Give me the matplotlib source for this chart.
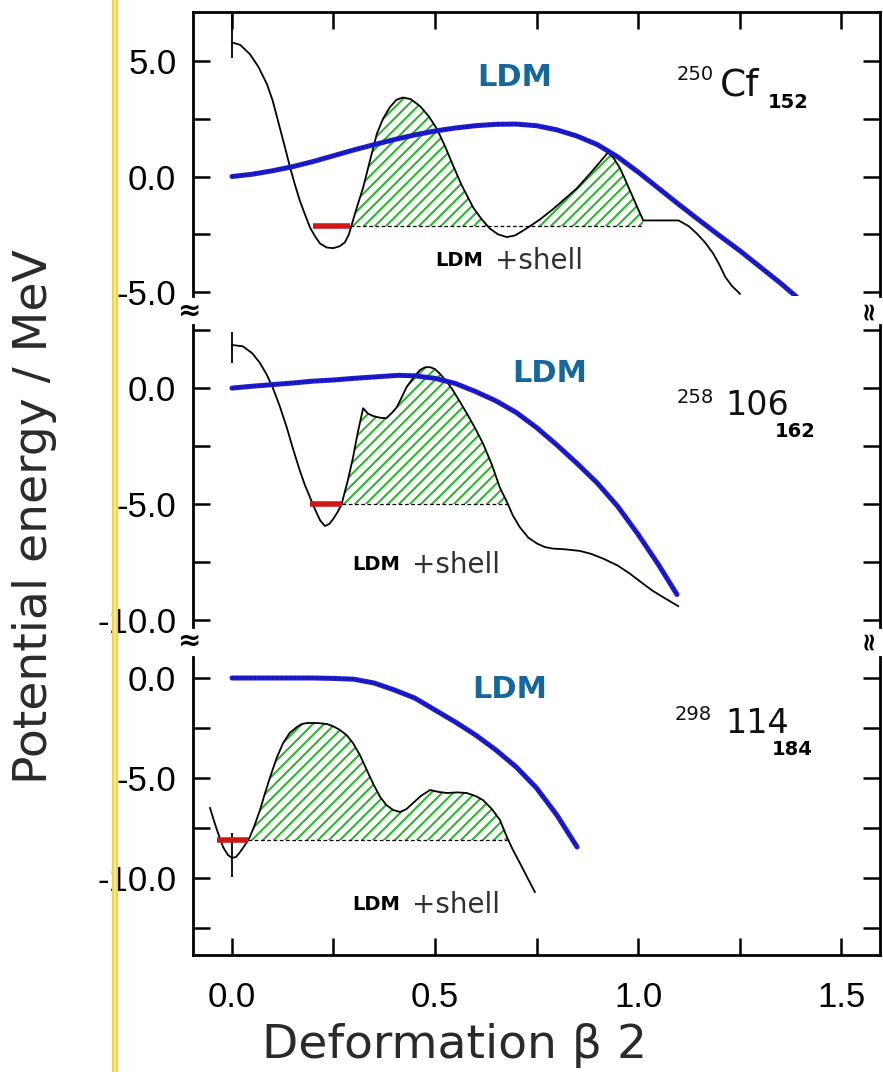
import matplotlib
matplotlib.use('Agg')
import matplotlib.pyplot as plt
import numpy as np
from matplotlib.collections import LineCollection
from matplotlib.lines import Line2D
from matplotlib.path import Path
from matplotlib.transforms import IdentityTransform
from matplotlib.ticker import MultipleLocator, FormatStrFormatter

plt.rcParams['axes.unicode_minus'] = False
plt.rcParams['font.family'] = 'Liberation Sans'

# ---------------- data ----------------
# 250Cf152
cf_ldm_beta = [0, 0.05, 0.1, 0.15, 0.2, 0.25, 0.3, 0.35, 0.4, 0.45, 0.5, 0.55, 0.6, 0.65,
               0.7, 0.75, 0.8, 0.85, 0.9, 0.95, 1.0, 1.05, 1.1, 1.15, 1.2, 1.25, 1.3, 1.35, 1.39]
cf_ldm_e = [0, 0.1, 0.25, 0.43, 0.65, 0.9, 1.15, 1.38, 1.6, 1.8, 1.97, 2.1, 2.2, 2.26,
            2.27, 2.2, 2.02, 1.75, 1.38, 0.85, 0.2, -0.5, -1.2, -1.88, -2.55, -3.2, -3.9, -4.6, -5.2]
cf_shell_beta = [0, 0.02, 0.044, 0.065, 0.086, 0.10, 0.118, 0.13, 0.143, 0.155, 0.167, 0.18,
                 0.192, 0.205, 0.217, 0.233, 0.249, 0.265, 0.278, 0.288, 0.298, 0.31, 0.323,
                 0.34, 0.357, 0.372, 0.389, 0.405, 0.421, 0.44, 0.463, 0.485, 0.505, 0.525,
                 0.544, 0.565, 0.594, 0.615, 0.635, 0.655, 0.677, 0.697, 0.717, 0.738, 0.759,
                 0.79, 0.815, 0.85, 0.882, 0.905, 0.926, 0.94, 0.956, 0.97, 0.985, 1.0, 1.013,
                 1.10, 1.125, 1.145, 1.165, 1.185, 1.2, 1.215, 1.232, 1.251]
cf_shell_e = [5.8, 5.7, 5.3, 4.75, 4.0, 3.3, 2.1, 1.3, 0.4, -0.35, -1.04, -1.65,
              -2.2, -2.6, -2.9, -3.07, -3.1, -3.02, -2.85, -2.5, -1.9, -1.2, -0.48,
              0.7, 1.86, 2.5, 3.0, 3.32, 3.42, 3.35, 3.05, 2.6, 2.05, 1.3,
              0.5, -0.35, -1.34, -1.85, -2.25, -2.5, -2.62, -2.55, -2.34, -2.1, -1.85,
              -1.42, -1.04, -0.5, 0.13, 0.6, 1.04, 0.8, 0.35, -0.2, -0.8, -1.4, -1.9,
              -1.9, -2.15, -2.47, -2.85, -3.33, -3.8, -4.35, -4.75, -5.07]

# 258 106 162
sg_ldm_beta = [0, 0.05, 0.1, 0.15, 0.2, 0.25, 0.3, 0.35, 0.41, 0.45, 0.5, 0.55, 0.6, 0.65,
               0.7, 0.75, 0.8, 0.85, 0.9, 0.95, 1.0, 1.05, 1.096]
sg_ldm_e = [0, 0.08, 0.15, 0.22, 0.3, 0.35, 0.42, 0.48, 0.55, 0.53, 0.42, 0.2, -0.15, -0.55,
            -1.05, -1.7, -2.45, -3.25, -4.1, -5.1, -6.3, -7.6, -8.9]
sg_shell_beta = [0, 0.027, 0.05, 0.069, 0.085, 0.10, 0.118, 0.135, 0.15, 0.167, 0.18, 0.192,
                 0.205, 0.217, 0.229, 0.24, 0.249, 0.26, 0.27, 0.285, 0.298, 0.31, 0.323,
                 0.335, 0.347, 0.365, 0.38, 0.395, 0.406, 0.418, 0.43, 0.447, 0.463, 0.476,
                 0.488, 0.5, 0.512, 0.528, 0.544, 0.56, 0.578, 0.598, 0.618, 0.64, 0.66,
                 0.677, 0.692, 0.709, 0.73, 0.751, 0.77, 0.79, 0.82, 0.857, 0.885, 0.914,
                 0.95, 0.98, 1.01, 1.037, 1.07, 1.099]
sg_shell_e = [1.86, 1.8, 1.5, 1.08, 0.6, 0.04, -0.8, -1.7, -2.6, -3.55, -4.2, -4.7,
              -5.25, -5.7, -5.95, -5.85, -5.65, -5.35, -5.0, -4.0, -3.0, -1.9, -0.87,
              -1.1, -1.2, -1.28, -1.3, -1.05, -0.82, -0.4, 0.04, 0.45, 0.78, 0.9,
              0.9, 0.82, 0.62, 0.3, -0.09, -0.55, -1.08, -1.7, -2.38, -3.3, -4.3,
              -4.9, -5.5, -6.0, -6.45, -6.7, -6.85, -6.92, -6.95, -7.02, -7.15, -7.35,
              -7.65, -8.0, -8.4, -8.75, -9.1, -9.4]

# 298 114 184
fl_ldm_beta = [0, 0.1, 0.2, 0.25, 0.3, 0.35, 0.4, 0.45, 0.5, 0.55, 0.6, 0.65, 0.7, 0.75,
               0.8, 0.85]
fl_ldm_e = [0, 0, 0, -0.02, -0.06, -0.25, -0.6, -1.0, -1.6, -2.2, -2.85, -3.6, -4.45, -5.5,
            -6.85, -8.45]
fl_shell_beta = [-0.054, -0.045, -0.037, -0.022, -0.01, 0, 0.01, 0.02, 0.032, 0.044, 0.056,
                 0.069, 0.08, 0.094, 0.11, 0.126, 0.142, 0.16, 0.172, 0.185, 0.21, 0.234,
                 0.25, 0.266, 0.282, 0.298, 0.315, 0.332, 0.348, 0.365, 0.38, 0.397, 0.414,
                 0.43, 0.446, 0.465, 0.488, 0.51, 0.53, 0.555, 0.578, 0.6, 0.618, 0.64,
                 0.66, 0.677, 0.692, 0.709, 0.728, 0.746]
fl_shell_e = [-6.5, -7.1, -7.6, -8.45, -8.85, -9.0, -8.95, -8.7, -8.35, -7.95, -7.35,
              -6.6, -5.85, -4.95, -4.0, -3.25, -2.75, -2.45, -2.3, -2.25, -2.25, -2.3,
              -2.42, -2.6, -2.85, -3.25, -3.85, -4.6, -5.3, -5.95, -6.35, -6.6, -6.7,
              -6.55, -6.25, -5.9, -5.6, -5.7, -5.75, -5.72, -5.75, -5.9, -6.1, -6.55,
              -7.1, -7.95, -8.6, -9.25, -10.0, -10.7]

# ground-state level, its red bar and the hatched barrier range
gs_level = [-2.15, -5.0, -8.1]
red_from = [0.2, 0.192, -0.037]
red_to = [0.29, 0.27, 0.04]
barrier_from = [0.29, 0.27, 0.04]
barrier_to = [1.013, 0.677, 0.677]
# short vertical marks at beta = 0
mark_lo = [5.15, 1.08, -9.95]
mark_hi = [7.06, 2.42, -7.75]

nuclide_mass = ['250', '258', '298']
nuclide_z = ['Cf', '106', '114']
nuclide_n = ['152', '162', '184']

panels = [(cf_ldm_beta, cf_ldm_e, cf_shell_beta, cf_shell_e),
          (sg_ldm_beta, sg_ldm_e, sg_shell_beta, sg_shell_e),
          (fl_ldm_beta, fl_ldm_e, fl_shell_beta, fl_shell_e)]

# ---------------- layout ----------------
W, H = 883, 1072


def fx(x):
    return x / W


def fy(y):
    return 1 - y / H


fig = plt.figure(figsize=(W / 100, H / 100), dpi=100)

boxes = [(12, 296), (325, 627), (657, 955)]          # pixel top / bottom of each panel
ylims = [(-5.17, 7.12), (-10.30, 2.72), (-13.85, 1.05)]
blue = '#1c1cd4'
green = '#2fb52f'


def hatch(ax, beta, e, lo, hi, lev):
    beta = np.asarray(beta)
    e = np.asarray(e)
    mask = (beta >= lo) & (beta <= hi) & (e > lev)
    poly = ax.fill_between(beta, e, lev, where=mask, interpolate=True,
                           facecolor='none', lw=0)
    clip = Path.make_compound_path(*poly.get_paths())
    x0, y0, x1, y1 = ax.bbox.extents
    h = y1 - y0
    segs = [[(x, y0), (x + h, y1)] for x in np.arange(x0 - h, x1, 11)]
    lc = LineCollection(segs, colors=green, linewidths=1.5,
                        transform=IdentityTransform(), zorder=1)
    ax.add_collection(lc, autolim=False)
    lc.set_clip_path(clip, ax.transData)


for i, (lb, le, sb, se) in enumerate(panels):
    top, bot = boxes[i]
    ax = fig.add_axes([fx(193), fy(bot), fx(880) - fx(193), (bot - top) / H])
    ax.set_xlim(-0.096, 1.596)
    ax.set_ylim(*ylims[i])

    hatch(ax, sb, se, barrier_from[i], barrier_to[i], gs_level[i])
    ax.plot([barrier_from[i], barrier_to[i]], [gs_level[i]] * 2, color='k', lw=0.9,
            ls=(0, (3, 2)), zorder=2)
    ax.plot([red_from[i], red_to[i]], [gs_level[i]] * 2, color='#d01818', lw=4,
            solid_capstyle='butt', zorder=4)
    ax.plot(sb, se, color='k', lw=1.3, zorder=3)
    ax.plot(lb, le, color=blue, lw=3.6, solid_capstyle='round', zorder=5)
    ax.plot(lb, le, color='k', lw=0.8, ls=(0, (1.5, 2.5)), alpha=0.55, zorder=6)
    ax.vlines(0, mark_lo[i], mark_hi[i], color='k', lw=1.3, zorder=3)

    for side in ['left', 'right', 'top', 'bottom']:
        ax.spines[side].set_linewidth(2)
    ax.spines['top'].set_visible(i == 0)
    ax.spines['bottom'].set_visible(i == 2)

    ax.yaxis.set_major_locator(MultipleLocator(5))
    ax.yaxis.set_minor_locator(MultipleLocator(2.5))
    ax.yaxis.set_major_formatter(FormatStrFormatter('%.1f'))
    ax.xaxis.set_major_locator(MultipleLocator(0.5))
    ax.xaxis.set_minor_locator(MultipleLocator(0.25))
    ax.xaxis.set_major_formatter(FormatStrFormatter('%.1f'))
    ax.tick_params(axis='y', which='both', direction='in', left=True, right=True,
                   length=12, width=1.8, labelsize=25, pad=12)
    ax.tick_params(axis='x', which='both', direction='in', top=(i == 0), bottom=(i == 2),
                   labelbottom=(i == 2), length=12, width=1.8, labelsize=25, pad=19)

# ---------------- text ----------------
dv = 'DejaVu Sans'
ldm_pos = [(515, 78), (550, 373), (510, 690)]
for x, y in ldm_pos:
    fig.text(fx(x), fy(y), 'LDM', ha='center', va='center', fontsize=22,
             fontweight='bold', color='#14689c', family=dv)

shell_pos = [(435, 261), (352, 565), (352, 905)]
for x, y in shell_pos:
    fig.text(fx(x), fy(y), 'LDM', ha='left', va='center', fontsize=14,
             fontweight='bold', color='k', family=dv)
    fig.text(fx(x + 60), fy(y), '+shell', ha='left', va='center', fontsize=20,
             color='#303030', family=dv)

mass_pos = [(677, 65), (677, 388), (675, 705)]
z_pos = [(720, 67), (725, 389), (725, 707)]
n_pos = [(768, 93), (775, 422), (772, 740)]
for i in range(3):
    fig.text(fx(mass_pos[i][0]), fy(mass_pos[i][1]), nuclide_mass[i], ha='left', va='top',
             fontsize=14, color='#111111', family=dv)
    fig.text(fx(z_pos[i][0]), fy(z_pos[i][1]), nuclide_z[i], ha='left', va='top',
             fontsize=27 if i == 0 else 24, color='#111111', family=dv)
    fig.text(fx(n_pos[i][0]), fy(n_pos[i][1]), nuclide_n[i], ha='left', va='top',
             fontsize=14, fontweight='bold', color='k', family=dv)

for y in [311, 641]:
    fig.text(fx(190), fy(y), '≈', ha='center', va='center', fontsize=20,
             fontweight='bold', family=dv)
    fig.text(fx(869), fy(y - 2), '≈', ha='center', va='center', fontsize=18,
             fontweight='bold', rotation=90, family=dv)

fig.text(fx(35), fy(517), 'Potential energy / MeV', rotation=90, ha='center', va='center',
         fontsize=34, color='#2a2a2a', family=dv)
fig.text(fx(455), fy(1045), 'Deformation β 2', ha='center', va='center',
         fontsize=34, color='#2a2a2a', family=dv)

# yellow margin line
fig.add_artist(Line2D([fx(115), fx(115)], [0, 1], color='#f2d246', lw=4.5))
fig.add_artist(Line2D([fx(115), fx(115)], [0, 1], color='#fbeeaa', lw=1.2))

fig.savefig('out.png', dpi=100)
